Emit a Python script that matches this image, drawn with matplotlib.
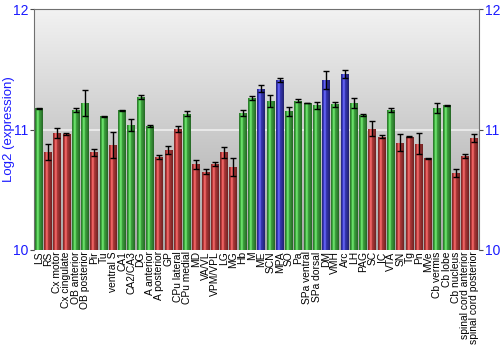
import numpy as np
import matplotlib.pyplot as plt
from matplotlib.colors import LinearSegmentedColormap, to_rgb

plt.rcParams['font.family'] = ['Liberation Sans', 'DejaVu Sans']

# Regions and their mean log2 expression with standard error
regions = ['LS', 'RS', 'Cx motor', 'Cx cingulate', 'OB anterior', 'OB posterior',
           'Pir', 'Tu', 'ventral S', 'CA1', 'CA2/CA3', 'DG', 'A anterior',
           'A posterior', 'GP', 'CPu lateral', 'CPu medial', 'MD', 'VA/VL',
           'VPM/VPL', 'LG', 'MG', 'Hb', 'M', 'ME', 'SCN', 'MPA', 'SO', 'Pa',
           'SPa ventral', 'SPa dorsal', 'DM', 'VMH', 'Arc', 'LH', 'PAG', 'SC',
           'IC', 'VTA', 'SN', 'Tg', 'Pn', 'MVe', 'Cb vermis', 'Cb lobe',
           'Cb nucleus', 'spinal cord anterior', 'spinal cord posterior']
expr = [11.175, 10.81, 10.97, 10.96, 11.16, 11.22, 10.81, 11.11, 10.87, 11.16,
        11.04, 11.27, 11.03, 10.77, 10.83, 11.005, 11.13, 10.71, 10.65, 10.71,
        10.81, 10.69, 11.14, 11.26, 11.34, 11.24, 11.41, 11.15, 11.24, 11.22,
        11.20, 11.41, 11.21, 11.46, 11.22, 11.12, 11.008, 10.94, 11.16, 10.89,
        10.94, 10.88, 10.76, 11.18, 11.20, 10.64, 10.78, 10.93]
sem = [0.005, 0.067, 0.04, 0.007, 0.017, 0.105, 0.028, 0.005, 0.11, 0.005,
       0.05, 0.02, 0.011, 0.018, 0.032, 0.028, 0.022, 0.04, 0.022, 0.017,
       0.046, 0.075, 0.025, 0.017, 0.029, 0.049, 0.015, 0.0375, 0.01, 0.003,
       0.03, 0.074, 0.02, 0.035, 0.04, 0.007, 0.06, 0.014, 0.018, 0.07,
       0.006, 0.087, 0.004, 0.039, 0.004, 0.036, 0.014, 0.03]
# highlighted (blue) regions
highlight = ['ME', 'MPA', 'DM', 'Arc']
baseline = 11.0

green = '#3fa83f'
red = '#b53a3a'
blue = '#3838b8'


def bar_color(name, val):
    if name in highlight:
        return blue
    return green if val > baseline + 0.01 else red


fig = plt.figure(figsize=(5, 3.5), dpi=100)
ax = fig.add_axes([0.068, 0.286, 0.89, 0.688])
ax.set_xlim(0, len(regions))
ax.set_ylim(10, 12)

# grey vertical background gradient
bg = np.linspace(0, 1, 256).reshape(-1, 1)
bg_cmap = LinearSegmentedColormap.from_list('bg', ['#a6a6a6', '#f2f2f2'])
ax.imshow(bg, cmap=bg_cmap, aspect='auto', extent=(0, len(regions), 10, 12),
          origin='lower', zorder=0)
ax.axhline(11, color='#eeeeee', lw=1.2, zorder=1)

x = np.arange(len(regions)) + 0.5
width = 0.84
shade = np.array([0.75, 1.0, 1.15, 1.05, 0.95, 0.85, 0.75, 0.65])
for xi, name, val in zip(x, regions, expr):
    c = np.array(to_rgb(bar_color(name, val)))
    rect = ax.bar(xi, val - 10, width, bottom=10, color=c, zorder=2,
                  linewidth=0)[0]
    cols = np.clip(c[None, :] * shade[:, None] + (shade[:, None] > 1) * 0.12, 0, 1)
    im = ax.imshow(cols[None, :, :], aspect='auto', interpolation='bilinear',
                   extent=(xi - width / 2, xi + width / 2, 10, val), zorder=3)
    im.set_clip_path(rect)

ax.errorbar(x, expr, yerr=sem, fmt='none', ecolor='black', elinewidth=1,
            capsize=2, capthick=1, zorder=4)

ax.set_xticks(x)
ax.set_xticklabels(regions, rotation=90, fontsize=7.4)
ax.tick_params(axis='x', length=0, pad=1)
ax.set_yticks([10, 11, 12])
ax.tick_params(axis='y', colors='#4a4a4a', labelcolor='#1a1aff', labelsize=10,
               length=3, right=True, labelright=True, pad=1)
ax.set_ylabel('Log2 (expression)', color='#1a1aff', fontsize=9.5)
ax.yaxis.set_label_coords(-0.043, 0.5)
for s in ax.spines.values():
    s.set_color('#707070')
ax.spines['bottom'].set_visible(False)

fig.savefig('out.png', dpi=100)
